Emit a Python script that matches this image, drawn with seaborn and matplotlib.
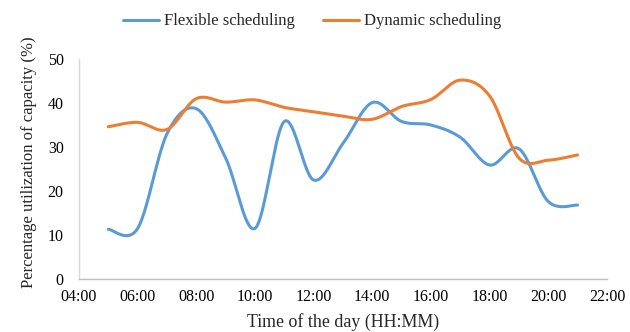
import numpy as np
import pandas as pd
import matplotlib
matplotlib.use("Agg")
import matplotlib.pyplot as plt
import seaborn as sns

# Hourly utilization readings, 05:00 to 21:00
hours = list(range(5, 22))
flexible = [11.3, 11.5, 33.0, 38.7, 27.5, 11.5, 35.8, 22.5, 30.8, 40.1,
            35.8, 35.0, 32.2, 25.9, 29.6, 17.6, 16.8]
dynamic = [34.6, 35.6, 34.0, 41.0, 40.2, 40.7, 39.0, 38.0, 37.0, 36.3,
           39.2, 40.8, 45.2, 41.6, 27.5, 27.0, 28.2]

series_names = ["Flexible scheduling", "Dynamic scheduling"]
series_colors = ["#5B9BD5", "#ED7D31"]
x_ticks = list(range(4, 23, 2))
x_tick_labels = [f"{h:02d}:00" for h in x_ticks]
y_ticks = [0, 10, 20, 30, 40, 50]


def smooth_curve(x, y, steps=40):
    """Spreadsheet-style smoothed line: cubic Bezier segments whose
    control points follow the Catmull-Rom rule (tangent / 6)."""
    pts = np.column_stack([np.asarray(x, float), np.asarray(y, float)])
    n = len(pts)
    out = []
    for i in range(n - 1):
        p0, p3 = pts[i], pts[i + 1]
        prev = pts[i - 1] if i > 0 else p0
        nxt = pts[i + 2] if i + 2 < n else p3
        c1 = p0 + (p3 - prev) / 6.0
        c2 = p3 - (nxt - p0) / 6.0
        t = np.linspace(0, 1, steps, endpoint=(i == n - 2))[:, None]
        seg = ((1 - t) ** 3) * p0 + 3 * ((1 - t) ** 2) * t * c1 \
            + 3 * (1 - t) * t ** 2 * c2 + t ** 3 * p3
        out.append(seg)
    out = np.vstack(out)
    return out[:, 0], out[:, 1]


frames = []
for name, vals in zip(series_names, [flexible, dynamic]):
    sx, sy = smooth_curve(hours, vals)
    frames.append(pd.DataFrame({"hour": sx, "value": sy, "series": name}))
df = pd.concat(frames, ignore_index=True)

sns.set_style("white")
plt.rcParams["font.family"] = ["Liberation Serif", "DejaVu Serif"]

fig = plt.figure(figsize=(6.3, 3.32), dpi=100)
ax = fig.add_axes([0.1254, 0.1596, 0.838, 0.6627])

sns.lineplot(data=df, x="hour", y="value", hue="series",
             hue_order=series_names, palette=series_colors,
             sort=False, linewidth=2.2, ax=ax, legend=False)

ax.set_xlim(4, 22)
ax.set_ylim(0, 50)
ax.set_xticks(x_ticks)
ax.set_xticklabels(x_tick_labels)
ax.set_yticks(y_ticks)
ax.tick_params(axis="both", length=0, labelsize=11.5, colors="#000000")
ax.tick_params(axis="y", pad=11)
ax.tick_params(axis="x", pad=7)

for side in ["top", "right"]:
    ax.spines[side].set_visible(False)
ax.spines["left"].set_color("#d9d9d9")
ax.spines["bottom"].set_color("#bfbfbf")
ax.spines["left"].set_linewidth(1.0)
ax.spines["bottom"].set_linewidth(1.0)

ax.set_xlabel("Time of the day (HH:MM)", fontsize=12.9, labelpad=6)
ax.set_ylabel("Percentage utilization of capacity (%)", fontsize=12)
ax.yaxis.set_label_coords(-0.080, 0.532)

handles = [plt.Line2D([0], [0], color=c, linewidth=2.2) for c in series_colors]
fig.legend(handles, series_names, loc="upper center",
           bbox_to_anchor=(0.495, 1.005), ncol=2, frameon=False,
           fontsize=12, handlelength=2.2, columnspacing=1.7,
           handletextpad=0.25)

fig.savefig("out.png", dpi=100)
